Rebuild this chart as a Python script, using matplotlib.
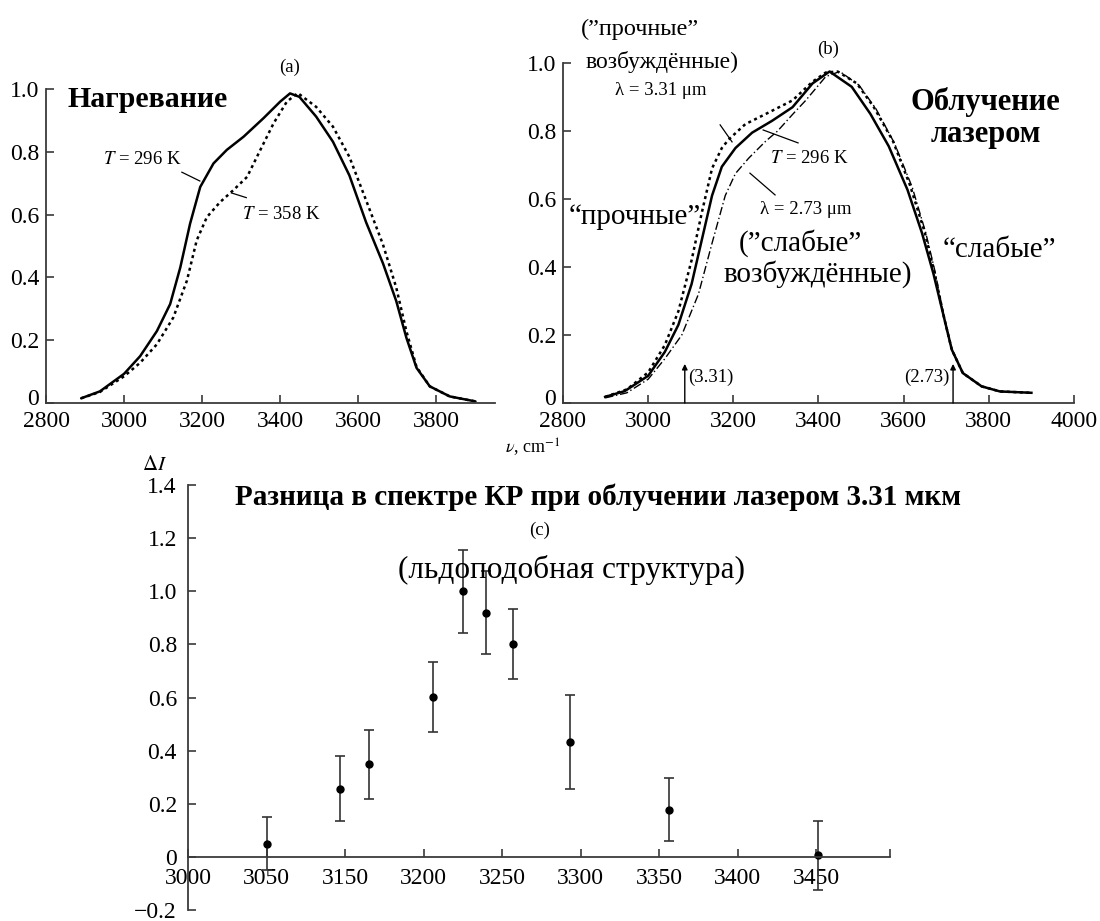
import matplotlib
matplotlib.use("Agg")
import matplotlib.pyplot as plt
from matplotlib.transforms import ScaledTranslation

plt.rcParams['font.family'] = ['Liberation Serif', 'DejaVu Serif']
plt.rcParams['mathtext.fontset'] = 'stix'

# ---------------- data ----------------
# panel (a): heating
a_x_296 = [2890, 2938, 3000, 3041, 3084, 3118, 3144, 3169, 3195, 3229, 3263, 3306, 3357, 3400, 3425,
           3449, 3492, 3535, 3577, 3620, 3663, 3697, 3723, 3749, 3783, 3834, 3900]
a_y_296 = [0.015, 0.037, 0.093, 0.149, 0.229, 0.315, 0.432, 0.571, 0.688, 0.763, 0.806, 0.848, 0.907, 0.960, 0.986,
           0.975, 0.912, 0.832, 0.725, 0.575, 0.445, 0.325, 0.208, 0.112, 0.053, 0.021, 0.005]
a_x_358 = [2890, 2938, 3000, 3041, 3084, 3126, 3161, 3186, 3212, 3246, 3280, 3315, 3349, 3383, 3417, 3445,
           3492, 3535, 3577, 3620, 3663, 3697, 3723, 3749, 3783, 3834, 3900]
a_y_358 = [0.015, 0.035, 0.085, 0.128, 0.187, 0.272, 0.390, 0.518, 0.592, 0.640, 0.678, 0.720, 0.806, 0.891, 0.960, 0.987,
           0.943, 0.880, 0.784, 0.645, 0.505, 0.368, 0.229, 0.115, 0.053, 0.021, 0.005]

# panel (b): laser irradiation
b_x_296 = [2899, 2945, 3000, 3039, 3071, 3102, 3126, 3150, 3173, 3205, 3244, 3291, 3339, 3386, 3426,
           3478, 3522, 3565, 3609, 3643, 3670, 3696, 3713, 3739, 3783, 3826, 3900]
b_y_296 = [0.018, 0.035, 0.08, 0.15, 0.23, 0.35, 0.48, 0.61, 0.695, 0.75, 0.795, 0.83, 0.87, 0.94, 0.975,
           0.93, 0.85, 0.755, 0.627, 0.50, 0.38, 0.245, 0.157, 0.088, 0.049, 0.034, 0.03]
b_x_331 = [2899, 2950, 3000, 3039, 3071, 3102, 3126, 3150, 3173, 3189, 3228, 3276, 3339, 3386, 3417, 3445,
           3490, 3530, 3575, 3615, 3650, 3672, 3696, 3713, 3739, 3783, 3826, 3900]
b_y_331 = [0.018, 0.04, 0.09, 0.17, 0.27, 0.42, 0.56, 0.69, 0.75, 0.775, 0.82, 0.85, 0.89, 0.945, 0.972, 0.975,
           0.94, 0.87, 0.77, 0.64, 0.50, 0.385, 0.245, 0.157, 0.088, 0.049, 0.034, 0.03]
b_x_273 = [2899, 2950, 3000, 3039, 3079, 3118, 3150, 3181, 3205, 3236, 3276, 3304, 3340, 3370, 3417, 3450,
           3495, 3535, 3578, 3620, 3652, 3674, 3696, 3713, 3739, 3783, 3826, 3900]
b_y_273 = [0.015, 0.03, 0.07, 0.13, 0.20, 0.32, 0.47, 0.61, 0.675, 0.72, 0.77, 0.80, 0.85, 0.89, 0.96, 0.975,
           0.935, 0.865, 0.765, 0.635, 0.50, 0.385, 0.245, 0.157, 0.088, 0.049, 0.034, 0.03]

# panel (c): difference spectrum
c_x = [3100, 3147, 3165, 3206, 3225, 3240, 3257, 3293, 3356, 3451]
c_y = [0.05, 0.256, 0.349, 0.602, 1.0, 0.92, 0.802, 0.434, 0.178, 0.006]
c_err = [0.10, 0.122, 0.13, 0.13, 0.157, 0.157, 0.132, 0.177, 0.12, 0.13]
c_ticks = [3050, 3100, 3150, 3200, 3250, 3300, 3350, 3400, 3450, 3497]
c_ticklabels = ['3000', '3050', '3150', '3200', '3250', '3300', '3350', '3400', '3450', '']

ab_yticks = [0, 0.2, 0.4, 0.6, 0.8, 1.0]
ab_yticklabels = ['0', '0.2', '0.4', '0.6', '0.8', '1.0']
a_xticks = [2800, 3000, 3200, 3400, 3600, 3800]
b_xticks = [2800, 3000, 3200, 3400, 3600, 3800, 4000]
c_yticks = [-0.2, 0, 0.2, 0.4, 0.6, 0.8, 1.0, 1.2, 1.4]
c_yticklabels = ['\u22120.2', '0', '0.2', '0.4', '0.6', '0.8', '1.0', '1.2', '1.4']

W, H = 1100, 921
fig = plt.figure(figsize=(11, 9.21), dpi=100)

def box(l, t, r, b):
    return [l / W, 1 - b / H, (r - l) / W, (b - t) / H]

spine_c = '#3a3a3a'
TL = 17     # tick label size
SM = 13.5   # small annotation size

def style(ax):
    for s in ['top', 'right']:
        ax.spines[s].set_visible(False)
    for s in ['left', 'bottom']:
        ax.spines[s].set_color(spine_c)
        ax.spines[s].set_linewidth(1.3)
    ax.tick_params(direction='in', length=6, width=1.2, color=spine_c, labelsize=TL)
    ax.tick_params(axis='x', pad=6)
    ax.tick_params(axis='y', pad=5)

def lift_zero_label(ax):
    lab = ax.get_yticklabels()[0]
    lab.set_transform(lab.get_transform() + ScaledTranslation(0, 4 / 72, fig.dpi_scale_trans))

# ---- panel (a)
axa = fig.add_axes(box(46, 89, 495, 403))
style(axa)
axa.plot(a_x_296, a_y_296, color='black', lw=1.8, solid_capstyle='round')
axa.plot(a_x_358, a_y_358, color='black', lw=1.8, linestyle=(0, (1.2, 1.4)))
axa.set_xlim(2800, 3950)
axa.set_ylim(0, 1.0)
axa.set_xticks(a_xticks)
axa.set_yticks(ab_yticks)
axa.set_yticklabels(ab_yticklabels)
lift_zero_label(axa)
axa.text(3423, 1.07, '(a)', fontsize=SM, ha='center', va='center', clip_on=False)
axa.text(2855, 0.965, 'Нагревание', fontsize=21.5, fontweight='bold', ha='left', va='center')
axa.text(2946, 0.774, r'$T$ = 296 K', fontsize=SM, ha='left', va='center')
axa.plot([3148, 3194], [0.735, 0.707], color='black', lw=0.9)
axa.text(3303, 0.599, r'$T$ = 358 K', fontsize=SM, ha='left', va='center')
axa.plot([3275, 3313], [0.669, 0.654], color='black', lw=0.9)

# ---- panel (b)
axb = fig.add_axes(box(563, 63, 1074, 403))
style(axb)
axb.plot(b_x_296, b_y_296, color='black', lw=1.8)
axb.plot(b_x_331, b_y_331, color='black', lw=1.8, linestyle=(0, (1.2, 1.4)))
axb.plot(b_x_273, b_y_273, color='black', lw=1.0, linestyle=(0, (6, 2, 1, 2)))
axb.set_xlim(2800, 4000)
axb.set_ylim(0, 1.0)
axb.set_xticks(b_xticks)
axb.set_yticks(ab_yticks)
axb.set_yticklabels(ab_yticklabels)
lift_zero_label(axb)
axb.text(3422, 1.04, '(b)', fontsize=SM, ha='center', va='center', clip_on=False)
axb.text(2842, 1.1, '(\u201dпрочные\u201d', fontsize=17.5, ha='left', va='center', clip_on=False)
axb.text(2852, 1.003, 'возбуждённые)', fontsize=17, ha='left', va='center', clip_on=False)
axb.text(2922, 0.92, 'λ = 3.31 μm', fontsize=SM, ha='left', va='center')
axb.plot([3169, 3197], [0.818, 0.768], color='black', lw=0.9)
axb.text(3793, 0.885, 'Облучение', fontsize=22, fontweight='bold', ha='center', va='center')
axb.text(3793, 0.79, 'лазером', fontsize=22, fontweight='bold', ha='center', va='center')
axb.text(3286, 0.72, r'$T$ = 296 K', fontsize=SM, ha='left', va='center')
axb.plot([3270, 3352], [0.803, 0.765], color='black', lw=0.9)
axb.text(3263, 0.568, 'λ = 2.73 μm', fontsize=SM, ha='left', va='center')
axb.plot([3239, 3298], [0.676, 0.612], color='black', lw=0.9)
axb.text(3124, 0.547, '\u201cпрочные\u201d', fontsize=21, ha='right', va='center')
axb.text(3357, 0.47, '(\u201dслабые\u201d', fontsize=21, ha='center', va='center')
axb.text(3399, 0.38, 'возбуждённые)', fontsize=21, ha='center', va='center')
axb.text(3824, 0.45, '\u201cслабые\u201d', fontsize=21, ha='center', va='center')
axb.annotate('', xy=(3086, 0.115), xytext=(3086, 0.0),
             arrowprops=dict(arrowstyle='-|>', color='black', lw=1.0, mutation_scale=8, shrinkA=0, shrinkB=0))
axb.text(3094, 0.075, '(3.31)', fontsize=SM, ha='left', va='center')
axb.annotate('', xy=(3716, 0.115), xytext=(3716, 0.0),
             arrowprops=dict(arrowstyle='-|>', color='black', lw=1.0, mutation_scale=8, shrinkA=0, shrinkB=0))
axb.text(3707, 0.075, '(2.73)', fontsize=SM, ha='right', va='center')
fig.text(533 / W, 1 - 447 / H, r'$\nu$, cm$^{-1}$', fontsize=13, ha='center', va='center')

# ---- panel (c)
axc = fig.add_axes(box(188, 485, 890, 910))
style(axc)
axc.spines['bottom'].set_position(('data', 0))
axc.tick_params(axis='x', pad=8)
axc.tick_params(axis='y', pad=8)
axc.errorbar(c_x, c_y, yerr=c_err, fmt='o', color='black', ms=5, elinewidth=1.2,
             ecolor='#333333', capsize=3.5, capthick=1.2)
axc.set_xlim(3050, 3497)
axc.set_ylim(-0.2, 1.4)
axc.set_xticks(c_ticks)
axc.set_xticklabels(c_ticklabels)
axc.set_yticks(c_yticks)
axc.set_yticklabels(c_yticklabels)
axc.text(3311, 1.355, 'Разница в спектре КР при облучении лазером 3.31 мкм', fontsize=21,
         fontweight='bold', ha='center', va='center', clip_on=False)
axc.text(3274, 1.23, '(c)', fontsize=SM, ha='center', va='center')
axc.text(3294, 1.08, '(льдоподобная структура)', fontsize=22.5, ha='center', va='center')
fig.text(155 / W, 1 - 465 / H, r'$\Delta I$', fontsize=15, ha='center', va='center')

fig.savefig('out.png', dpi=100)
